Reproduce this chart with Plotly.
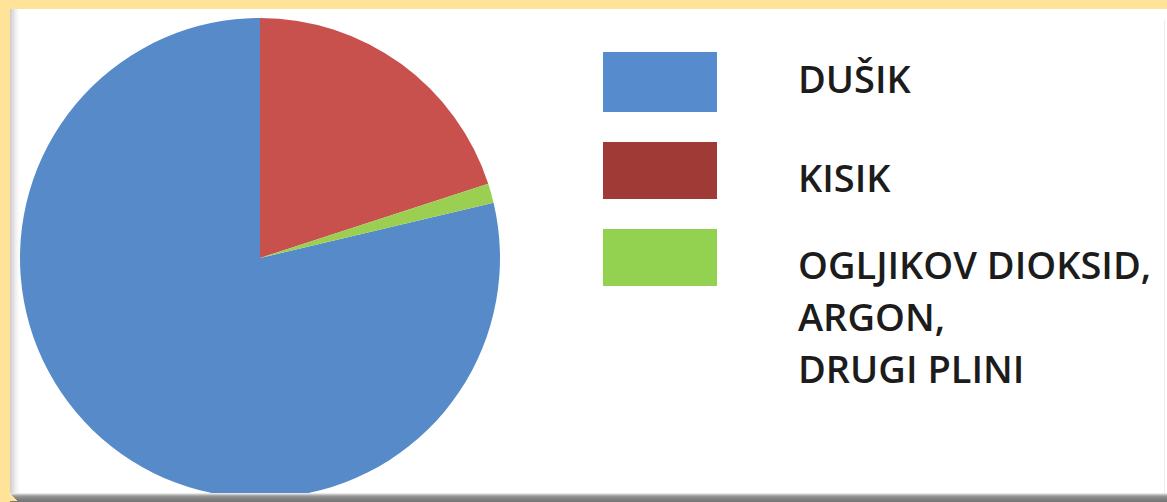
import plotly.graph_objects as go

labels = ["DUŠIK", "KISIK", "OGLJIKOV DIOKSID,<br>ARGON,<br>DRUGI PLINI"]
values = [78.7, 20.0, 1.3]
pie_colors = ["#568AC9", "#C8514E", "#9BCF52"]
swatch_colors = ["#568BCE", "#A03A37", "#93D250"]

W, H = 1167, 502


def px(x):
    return x / W


def py(y):
    return 1 - y / H


# first slice (DUŠIK) starts where the other slices end, so KISIK begins at 12 o'clock
start_angle = 360 * (values[1] + values[2]) / sum(values)

fig = go.Figure()
cx, cy, r = 260, 258, 240
fig.add_trace(go.Pie(
    labels=labels, values=values, sort=False, direction="clockwise",
    rotation=start_angle, textinfo="none", hoverinfo="label+percent",
    marker=dict(colors=pie_colors, line=dict(width=0)),
    domain=dict(x=[px(cx - r), px(cx + r)], y=[py(cy + r), py(cy - r)]),
    showlegend=False,
))

shapes = []
# white panel
shapes.append(dict(type="rect", xref="paper", yref="paper", x0=px(10), x1=px(W), y0=py(493), y1=py(9),
                   fillcolor="white", line=dict(width=0), layer="below"))
# left bevel gradient
left_cols = ["#cfcfcf", "#d6d6d6", "#dcdcdc", "#e2e2e2", "#e8e8e8", "#eeeeee", "#f3f3f3", "#f7f7f7", "#fbfbfb", "#fdfdfd"]
for i, c in enumerate(left_cols):
    shapes.append(dict(type="rect", xref="paper", yref="paper", x0=px(10 + i), x1=px(11 + i),
                       y0=py(493), y1=py(9), fillcolor=c, line=dict(width=0), layer="below"))
# bottom bevel gradient
bot_cols = ["#e6e6e6", "#c8c8c8", "#a8a8a8", "#959595", "#8a8a8a", "#838383", "#7e7e7e", "#7a7a7a", "#777777"]
for i, c in enumerate(bot_cols):
    shapes.append(dict(type="rect", xref="paper", yref="paper", x0=px(10 + i), x1=px(W),
                       y0=py(494 + i), y1=py(493 + i), fillcolor=c, line=dict(width=0), layer="above"))
shapes.append(dict(type="rect", xref="paper", yref="paper", x0=px(10), x1=px(W), y0=0, y1=py(501),
                   fillcolor="#777777", line=dict(width=0), layer="above"))
# right faint line
shapes.append(dict(type="rect", xref="paper", yref="paper", x0=px(1164), x1=px(1165), y0=py(493), y1=py(20),
                   fillcolor="#ececec", line=dict(width=0), layer="below"))

# legend swatches
sw_top = [52, 142, 229]
sw_h = [60, 57, 57]
for i, c in enumerate(swatch_colors):
    shapes.append(dict(type="rect", xref="paper", yref="paper", x0=px(603), x1=px(717),
                       y0=py(sw_top[i] + sw_h[i]), y1=py(sw_top[i]), fillcolor=c,
                       line=dict(width=0), layer="above"))

annotations = []
first_line_y = [80.5, 178.5, 266]
line_gap = 52
for i, lab in enumerate(labels):
    for j, part in enumerate(lab.split("<br>")):
        annotations.append(dict(
            xref="paper", yref="paper", x=px(796), y=py(first_line_y[i] + j * line_gap - 2),
            xanchor="left", yanchor="middle", showarrow=False, text=part,
            font=dict(family="Open Sans", size=38, color="#1c1c1c", weight=600),
        ))

fig.update_layout(
    width=W, height=H, margin=dict(l=0, r=0, t=0, b=0),
    paper_bgcolor="#FEE399", plot_bgcolor="#FEE399",
    shapes=shapes, annotations=annotations,
)
fig.write_html("out.html", config={"displayModeBar": False},
               post_script="document.body.style.margin='0';document.body.style.overflow='hidden';")
